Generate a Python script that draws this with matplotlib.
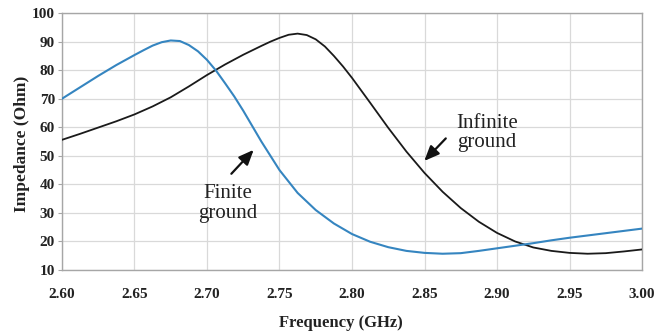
import matplotlib
matplotlib.use("Agg")
import matplotlib.pyplot as plt

finite_freq = [2.600, 2.6125, 2.625, 2.6375, 2.650, 2.6563, 2.6625, 2.6688, 2.675, 2.6813,
               2.6875, 2.6938, 2.700, 2.7063, 2.7125, 2.7188, 2.725, 2.7375, 2.750, 2.7625,
               2.775, 2.7875, 2.800, 2.8125, 2.825, 2.8375, 2.850, 2.8625, 2.875, 2.8875,
               2.900, 2.9125, 2.925, 2.9375, 2.950, 2.9625, 2.975, 2.9875, 3.000]
finite_ground = [70.0, 74.0, 78.0, 81.8, 85.3, 87.0, 88.6, 89.8, 90.4, 90.2,
                 88.8, 86.6, 83.6, 79.8, 75.4, 70.8, 65.8, 55.0, 45.0, 37.0,
                 31.0, 26.3, 22.6, 19.9, 18.0, 16.7, 16.0, 15.7, 15.9, 16.7,
                 17.6, 18.5, 19.4, 20.4, 21.3, 22.1, 22.9, 23.7, 24.5]

infinite_freq = [2.600, 2.6125, 2.625, 2.6375, 2.650, 2.6625, 2.675, 2.6875, 2.700, 2.7125,
                 2.725, 2.7375, 2.7438, 2.750, 2.7563, 2.7625, 2.7688, 2.775, 2.7813, 2.7875,
                 2.7938, 2.800, 2.8125, 2.825, 2.8375, 2.850, 2.8625, 2.875, 2.8875, 2.900,
                 2.9125, 2.925, 2.9375, 2.950, 2.9625, 2.975, 2.9875, 3.000]
infinite_ground = [55.6, 57.7, 59.9, 62.1, 64.5, 67.3, 70.5, 74.3, 78.3, 82.0,
                   85.4, 88.5, 90.0, 91.3, 92.4, 92.8, 92.3, 90.8, 88.3, 85.0,
                   81.3, 77.3, 68.6, 59.8, 51.5, 44.0, 37.4, 31.7, 26.9, 23.0,
                   20.0, 17.9, 16.7, 16.0, 15.7, 15.9, 16.5, 17.2]

xticks = [2.60, 2.65, 2.70, 2.75, 2.80, 2.85, 2.90, 2.95, 3.00]
xtick_labels = ["2.60", "2.65", "2.70", "2.75", "2.80", "2.85", "2.90", "2.95", "3.00"]
yticks = [10, 20, 30, 40, 50, 60, 70, 80, 90, 100]

serif = ["Liberation Serif", "DejaVu Serif"]

fig = plt.figure(figsize=(6.58, 3.35), dpi=100)
ax = fig.add_axes([0.0942, 0.194, 0.8815, 0.767])

ax.plot(infinite_freq, infinite_ground, color="#1a1a1a", lw=1.3, zorder=3,
        solid_joinstyle="round")
ax.plot(finite_freq, finite_ground, color="#3585c0", lw=1.5, zorder=3,
        solid_joinstyle="round")

ax.set_xlim(2.60, 3.00)
ax.set_ylim(10, 100)
ax.set_xticks(xticks)
ax.set_xticklabels(xtick_labels)
ax.set_yticks(yticks)
ax.grid(True, color="#d9d9d9", lw=0.9)
ax.set_axisbelow(True)
for s in ax.spines.values():
    s.set_color("#a6a6a6")
    s.set_linewidth(1.0)

ax.tick_params(axis="x", length=0, pad=13)
ax.tick_params(axis="y", length=3, color="#a6a6a6", pad=2)
for lab in ax.get_xticklabels() + ax.get_yticklabels():
    lab.set_family(serif)
    lab.set_fontweight("bold")
    lab.set_fontsize(11)
    lab.set_color("#222222")

ax.set_xlabel("Frequency (GHz)", family=serif, fontweight="bold", fontsize=12,
              color="#222222")
ax.xaxis.set_label_coords(0.48, -0.175)
ax.set_ylabel("Impedance (Ohm)", family=serif, fontweight="bold", fontsize=12.5,
              color="#222222")
ax.yaxis.set_label_coords(-0.055, 0.49)

ax.text(2.7145, 33.3, "Finite\nground", family=serif, fontsize=15, ha="center",
        va="center", linespacing=1.05, color="#222222")
ax.annotate("", xy=(2.7335, 52.8), xytext=(2.7155, 43.0),
            arrowprops=dict(arrowstyle="-|>,head_length=0.9,head_width=0.38",
                            color="#111111", lw=1.6))

ax.text(2.893, 58.0, "Infinite\nground", family=serif, fontsize=15, ha="center",
        va="center", linespacing=1.05, color="#222222")
ax.annotate("", xy=(2.8485, 47.5), xytext=(2.866, 56.8),
            arrowprops=dict(arrowstyle="-|>,head_length=0.9,head_width=0.38",
                            color="#111111", lw=1.6))

fig.savefig("out.png", dpi=100)
